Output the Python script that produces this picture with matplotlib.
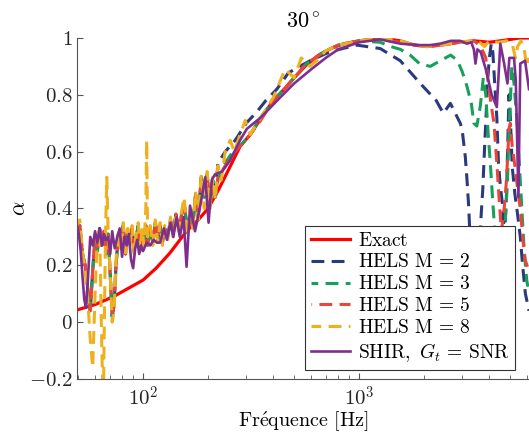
import matplotlib
matplotlib.use('Agg')
import matplotlib.pyplot as plt
from matplotlib.ticker import FixedLocator, FixedFormatter, LogLocator, NullFormatter

plt.rcParams['mathtext.fontset'] = 'cm'
plt.rcParams['font.family'] = ['cmr10', 'DejaVu Serif']
plt.rcParams['axes.formatter.use_mathtext'] = True

# exact absorption coefficient
exact_f = [49.5, 60, 73, 85, 100, 115, 133, 159, 180, 200, 225, 250, 281, 313, 350, 400, 450, 500,
           570, 650, 750, 850, 1000, 1250, 1550, 1800, 2050, 2400, 2900, 3400, 4000, 4500, 5000, 5500, 6100]
exact_a = [0.043, 0.062, 0.09, 0.118, 0.148, 0.19, 0.243, 0.32, 0.36, 0.40, 0.47, 0.54, 0.618, 0.66,
           0.715, 0.78, 0.82, 0.86, 0.905, 0.94, 0.965, 0.98, 0.99, 1.0, 0.99, 0.975, 0.97, 0.975,
           0.985, 0.99, 0.985, 0.99, 0.995, 1.0, 1.0]

# low frequency part shared by HELS M = 2, 3, 5
low_f = [49.5, 51, 52.5, 54, 55.5, 57, 58.5, 60, 61.5, 63, 64.5, 66, 67.5, 69, 70.5, 72, 73.5, 75, 77, 79,
         81, 83, 85, 87, 89, 91, 93, 95, 97, 99, 101, 103, 105, 108, 111, 114, 117, 120, 123, 126,
         130, 134, 138, 142, 146, 150, 155, 160, 165, 170, 175, 180, 186, 192, 198, 204, 210, 216]
hels_low = [0.30, 0.34, 0.24, 0.20, 0.12, 0.04, 0.18, 0.30, 0.25, 0.33, 0.27, 0.32, 0.24, 0.31, 0.17,
            0.02, 0.06, 0.20, 0.31, 0.26, 0.34, 0.24, 0.32, 0.28, 0.33, 0.25, 0.30, 0.34, 0.26, 0.32,
            0.28, 0.34, 0.27, 0.33, 0.28, 0.35, 0.29, 0.34, 0.28, 0.33, 0.30, 0.36, 0.31, 0.38, 0.33,
            0.37, 0.42, 0.33, 0.36, 0.34, 0.45, 0.37, 0.51, 0.44, 0.52, 0.41, 0.50, 0.44]

m2_f = [222, 240, 267, 300, 336, 370, 416, 470, 530, 593, 700, 790, 975, 1250, 1549, 1916, 2270, 2450,
        2640, 2934, 2990, 3097, 3152, 3207, 3300, 3450, 3560, 3660, 3730, 3808, 3870, 3907, 4000, 4080,
        4150, 4264, 4330, 4406, 4494, 4590, 4700, 4800, 4930, 5000, 5100, 5250, 5400, 5560, 5700, 5870, 6100]
m2_a = [0.56, 0.60, 0.64, 0.70, 0.74, 0.78, 0.82, 0.877, 0.90, 0.92, 0.945, 0.958, 0.975, 0.963, 0.92,
        0.84, 0.78, 0.735, 0.77, 0.70, 0.68, 0.58, 0.50, 0.41, 0.20, 0.02, 0.15, 0.37, 0.47, 0.63, 0.74,
        0.83, 0.93, 0.98, 0.95, 0.80, 0.72, 0.56, 0.48, 0.42, 0.30, 0.45, 0.80, 0.72, 0.55, 0.45, 0.38,
        0.30, 0.20, 0.10, 0.04]

m3_f = [222, 240, 260, 281, 313, 350, 400, 450, 500, 570, 700, 800, 1000, 1250, 1400, 1550, 1720, 1900,
        2130, 2370, 2650, 2850, 3000, 3150, 3300, 3390, 3500, 3631, 3750, 3850, 3950, 4040, 4150, 4300,
        4500, 4700, 4850, 4950, 5080, 5200, 5350, 5500, 5650, 5800, 5950, 6100]
m3_a = [0.50, 0.56, 0.60, 0.62, 0.66, 0.72, 0.78, 0.82, 0.86, 0.91, 0.955, 0.975, 0.99, 0.985, 0.97,
        0.96, 0.94, 0.91, 0.90, 0.92, 0.94, 0.92, 0.88, 0.83, 0.77, 0.70, 0.69, 0.76, 0.86, 0.80, 0.66,
        0.56, 0.42, 0.25, 0.10, 0.30, 0.50, 0.70, 0.90, 0.84, 0.72, 0.56, 0.40, 0.25, 0.15, 0.10]

m5_f = [222, 240, 260, 281, 313, 350, 400, 450, 500, 570, 700, 800, 1000, 1250, 1550, 1800, 2050, 2400,
        2900, 3150, 3400, 3650, 3850, 3950, 4050, 4200, 4330, 4450, 4550, 4680, 4800, 4930, 5000, 5100,
        5250, 5400, 5560, 5700, 5850, 6100]
m5_a = [0.51, 0.55, 0.59, 0.62, 0.66, 0.71, 0.78, 0.82, 0.86, 0.91, 0.955, 0.975, 0.99, 0.995, 0.985,
        0.975, 0.97, 0.975, 0.985, 0.985, 0.99, 0.97, 0.93, 0.84, 0.78, 0.70, 0.56, 0.42, 0.32, 0.40,
        0.50, 0.68, 0.70, 0.62, 0.55, 0.47, 0.40, 0.30, 0.22, 0.18]

m8_f = [49.5, 51, 52.5, 54, 55.5, 57, 58.5, 60, 61.5, 63, 64.5, 65.5, 67, 68, 69, 70.5, 72, 73.5, 75, 77,
        79, 81, 83, 85, 87, 89, 91, 93, 95, 97, 99, 101, 103, 104, 105, 108, 111, 114, 117, 120,
        123, 126, 130, 134, 138, 142, 146, 150, 155, 160, 165, 170, 175, 180, 186, 192, 198, 204, 210, 216,
        222, 230, 240, 253, 265, 281, 297, 313, 350, 400, 454, 500, 540, 590, 636, 700, 800, 1000, 1250, 1550,
        1800, 2050, 2400, 2900, 3300, 3600, 3800, 4000, 4400, 4800, 5100, 5280, 5400, 5600, 5800, 5950, 6100]
m8_a = [0.34, 0.36, 0.25, 0.18, 0.08, -0.06, -0.16, 0.10, 0.30, 0.33, -0.10, -0.30, 0.30, 0.51, 0.31,
        0.17, 0.00, 0.04, 0.22, 0.32, 0.25, 0.35, 0.23, 0.33, 0.27, 0.34, 0.24, 0.31, 0.35, 0.25,
        0.33, 0.27, 0.40, 0.64, 0.30, 0.34, 0.27, 0.36, 0.28, 0.35, 0.27, 0.34, 0.29, 0.37, 0.30,
        0.37, 0.32, 0.38, 0.44, 0.31, 0.37, 0.33, 0.46, 0.36, 0.52, 0.40, 0.53, 0.40, 0.51, 0.43,
        0.55, 0.50, 0.60, 0.64, 0.60, 0.66, 0.71, 0.66, 0.72, 0.79, 0.89, 0.86, 0.93, 0.90, 0.92,
        0.955, 0.975, 0.99, 1.0, 0.99, 0.975, 0.97, 0.975, 0.985, 0.99, 0.985, 0.97, 0.99, 0.985,
        0.99, 0.98, 0.93, 0.97, 0.99, 0.96, 0.90, 0.93]

shir_f = [49.5, 50.5, 51.5, 52.5, 53.5, 54.5, 55.5, 57, 58.5, 60, 61.5, 63, 64.5, 66, 67.5, 69, 70.5, 72, 74, 76,
          78, 80, 82, 84, 86, 88, 90, 92, 94, 96, 98, 100, 104, 108, 112, 116, 120, 125, 129, 134,
          138, 143, 148, 154, 159, 165, 174, 184, 194, 201, 208, 215, 232, 253, 281, 302, 350, 430, 500, 600,
          700, 800, 1000, 1250, 1550, 1900, 2130, 2370, 2650, 2930, 3150, 3300, 3390, 3450, 3520, 3650, 3850,
          4100, 4330, 4494, 4680, 4850, 4950, 5200, 5300, 5450, 5560, 5850, 6100]
shir_a = [0.34, 0.31, 0.25, 0.16, 0.08, 0.05, 0.14, 0.30, 0.27, 0.32, 0.28, 0.33, 0.27, 0.31, 0.29,
          0.30, 0.24, 0.32, 0.26, 0.30, 0.33, 0.23, 0.30, 0.27, 0.31, 0.22, 0.19, 0.26, 0.29, 0.24,
          0.27, 0.25, 0.28, 0.27, 0.29, 0.28, 0.28, 0.33, 0.29, 0.35, 0.30, 0.37, 0.30, 0.37, 0.195,
          0.41, 0.32, 0.41, 0.51, 0.35, 0.50, 0.52, 0.53, 0.57, 0.64, 0.68, 0.72, 0.79, 0.84, 0.89,
          0.93, 0.96, 0.985, 0.995, 0.98, 0.975, 0.975, 0.98, 0.99, 0.99, 0.98, 0.985, 0.96, 0.91,
          0.96, 0.95, 0.89, 0.80, 0.757, 0.98, 0.91, 0.84, 0.93, 0.93, 0.85, 0.44, 0.91, 0.92, 0.82]

labels = [r'$\mathrm{Exact}$', r'$\mathrm{HELS\ M}\,=\,2$', r'$\mathrm{HELS\ M}\,=\,3$',
          r'$\mathrm{HELS\ M}\,=\,5$', r'$\mathrm{HELS\ M}\,=\,8$', r'$\mathrm{SHIR,}\ G_t\,=\,\mathrm{SNR}$']
colors = ['#ff0000', '#2b3a7c', '#17a05a', '#e8463a', '#edb120', '#7e2f8e']

yticks = [-0.2, 0, 0.2, 0.4, 0.6, 0.8, 1]

fig = plt.figure(figsize=(5.29, 4.38), dpi=100)
ax = fig.add_axes([77/529, 59/438, 452/529, 341/438])

ax.plot(exact_f, exact_a, color=colors[0], lw=2.3, label=labels[0])
dash = (4.2, 2.4)
ax.plot(low_f + m2_f, hels_low + m2_a, color=colors[1], lw=2.2, ls=(0, dash), label=labels[1])
ax.plot(low_f + m3_f, hels_low + m3_a, color=colors[2], lw=2.2, ls=(2.0, dash), label=labels[2])
ax.plot(low_f + m5_f, hels_low + m5_a, color=colors[3], lw=2.2, ls=(4.0, dash), label=labels[3])
ax.plot(m8_f, m8_a, color=colors[4], lw=2.2, ls=(1.0, dash), label=labels[4])
ax.plot(shir_f, shir_a, color=colors[5], lw=1.9, label=labels[5])

ax.set_xscale('log')
ax.set_xlim(49.5, 6100)
ax.set_ylim(-0.2, 1)
ax.xaxis.set_major_locator(FixedLocator([100, 1000]))
ax.xaxis.set_major_formatter(FixedFormatter([r'$10^2$', r'$10^3$']))
ax.xaxis.set_minor_locator(LogLocator(base=10, subs=range(2, 10)))
ax.xaxis.set_minor_formatter(NullFormatter())
ax.yaxis.set_major_locator(FixedLocator(yticks))
ax.yaxis.set_major_formatter(FixedFormatter(['$%g$' % v for v in yticks]))

for s in ['top', 'right']:
    ax.spines[s].set_visible(False)
for s in ['left', 'bottom']:
    ax.spines[s].set_color('#555555')
    ax.spines[s].set_linewidth(0.8)
ax.tick_params(which='both', direction='in', colors='#555555', labelcolor='#262626', labelsize=15)
ax.tick_params(which='major', length=4.5)
ax.tick_params(axis='x', pad=5)
ax.tick_params(axis='y', pad=3)
ax.tick_params(which='minor', length=2.8)

ax.set_title(r'$30^\circ$', fontsize=16, pad=7)
ax.set_xlabel(r'$\mathrm{Fr\acute{e}quence\ [Hz]}$', fontsize=14.5, labelpad=0)
ax.set_ylabel(r'$\alpha$', fontsize=16, labelpad=0)

leg = ax.legend(loc='lower right', bbox_to_anchor=(0.97, 0.027), fontsize=14, frameon=True,
                fancybox=False, framealpha=1, edgecolor='#333333', handlelength=2.0,
                borderpad=0.3, labelspacing=0.2, handletextpad=0.4, borderaxespad=0)
leg.get_frame().set_linewidth(0.8)

fig.savefig('out.png', dpi=100)
